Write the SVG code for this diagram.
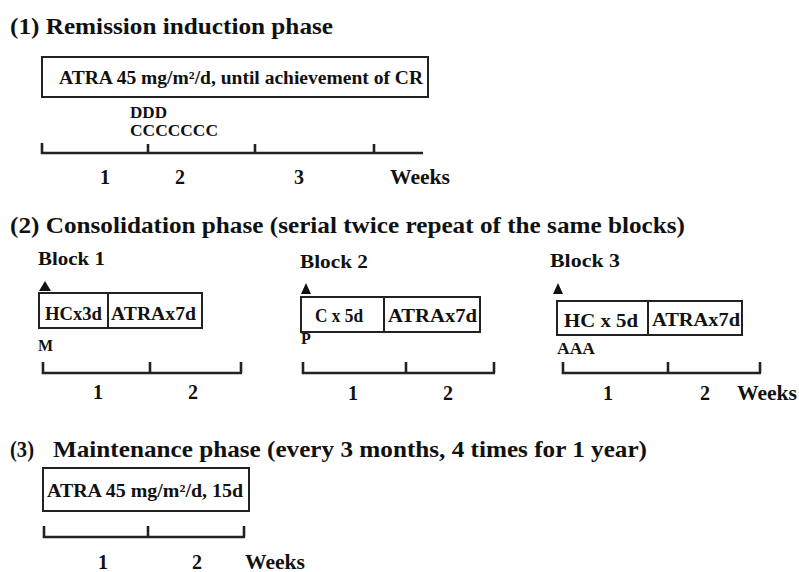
<svg xmlns="http://www.w3.org/2000/svg" width="799" height="572" viewBox="0 0 799 572">
<style>
text{font-family:'Liberation Serif','DejaVu Serif',serif;font-weight:700;fill:#111}
.h{font-size:23px}
.b{font-size:18px}
.bx{font-size:18px}
.s{font-size:16px}
.n{font-size:20px}
.box{fill:#fff;stroke:#222;stroke-width:2}
.tl{stroke:#222;stroke-width:2.6;fill:none}
.tri{fill:#111}
</style>
<rect width="799" height="572" fill="#fff"/>

<g id="phase1">
  <text class="h" x="10" y="34" textLength="323" lengthAdjust="spacingAndGlyphs">(1) Remission induction phase</text>
  <g id="box-induction">
    <rect class="box" x="42" y="57" width="386" height="40"/>
    <text class="b" x="59" y="84" textLength="364" lengthAdjust="spacingAndGlyphs">ATRA 45 mg/m²/d, until achievement of CR</text>
  </g>
  <text class="s" x="130" y="118" textLength="37" lengthAdjust="spacingAndGlyphs">DDD</text>
  <text class="s" x="130" y="136" textLength="88" lengthAdjust="spacingAndGlyphs">CCCCCCC</text>
  <text class="n" x="105" y="184" text-anchor="middle">1</text>
  <text class="n" x="180" y="184" text-anchor="middle">2</text>
  <text class="n" x="299" y="184" text-anchor="middle">3</text>
  <text class="n" x="390" y="184" textLength="60" lengthAdjust="spacingAndGlyphs">Weeks</text>
</g>

<g id="phase2">
  <text class="h" x="10" y="233" textLength="675" lengthAdjust="spacingAndGlyphs">(2) Consolidation phase (serial twice repeat of the same blocks)</text>
  <g id="block1">
    <text class="b" x="38" y="265" textLength="67" lengthAdjust="spacingAndGlyphs">Block 1</text>
    <polygon class="tri" points="39,291 45,281 51,291"/>
    <rect class="box" x="39" y="293" width="163" height="35"/>
    <line class="box" x1="108" y1="293" x2="108" y2="328"/>
    <text class="bx" x="45" y="320" textLength="57" lengthAdjust="spacingAndGlyphs">HCx3d</text>
    <text class="bx" x="111" y="320" textLength="85" lengthAdjust="spacingAndGlyphs">ATRAx7d</text>
    <text class="s" x="38" y="351">M</text>
    <text class="n" x="98" y="399" text-anchor="middle">1</text>
    <text class="n" x="193" y="399" text-anchor="middle">2</text>
  </g>
  <g id="block2">
    <text class="b" x="300" y="268" textLength="68" lengthAdjust="spacingAndGlyphs">Block 2</text>
    <polygon class="tri" points="301,294 306,283 311,294"/>
    <rect class="box" x="301" y="297" width="179" height="35"/>
    <line class="box" x1="384" y1="297" x2="384" y2="332"/>
    <text class="bx" x="315" y="322" textLength="48" lengthAdjust="spacingAndGlyphs">C x 5d</text>
    <text class="bx" x="388" y="322" textLength="89" lengthAdjust="spacingAndGlyphs">ATRAx7d</text>
    <text class="s" x="301" y="344">P</text>
    <text class="n" x="353" y="400" text-anchor="middle">1</text>
    <text class="n" x="448" y="400" text-anchor="middle">2</text>
  </g>
  <g id="block3">
    <text class="b" x="550" y="267" textLength="70" lengthAdjust="spacingAndGlyphs">Block 3</text>
    <polygon class="tri" points="553,294 558,283 563,294"/>
    <rect class="box" x="557" y="301" width="185" height="34"/>
    <line class="box" x1="648" y1="301" x2="648" y2="335"/>
    <text class="bx" x="564" y="327" textLength="74" lengthAdjust="spacingAndGlyphs">HC x 5d</text>
    <text class="bx" x="652" y="326" textLength="88" lengthAdjust="spacingAndGlyphs">ATRAx7d</text>
    <text class="s" x="557" y="354" textLength="38" lengthAdjust="spacingAndGlyphs">AAA</text>
    <text class="n" x="608" y="400" text-anchor="middle">1</text>
    <text class="n" x="705" y="400" text-anchor="middle">2</text>
    <text class="n" x="737" y="400" textLength="60" lengthAdjust="spacingAndGlyphs">Weeks</text>
  </g>
</g>

<g id="phase3">
  <text class="h" x="10" y="457" textLength="24" lengthAdjust="spacingAndGlyphs">(3)</text>
  <text class="h" x="53" y="457" textLength="594" lengthAdjust="spacingAndGlyphs">Maintenance phase (every 3 months, 4 times for 1 year)</text>
  <g id="box-maintenance">
    <rect class="box" x="43" y="468" width="206" height="43"/>
    <text class="b" x="47" y="497" textLength="196" lengthAdjust="spacingAndGlyphs">ATRA 45 mg/m²/d, 15d</text>
  </g>
  <text class="n" x="103" y="569" text-anchor="middle">1</text>
  <text class="n" x="197" y="569" text-anchor="middle">2</text>
  <text class="n" x="245" y="569" textLength="60" lengthAdjust="spacingAndGlyphs">Weeks</text>
</g>

<g id="connectors">
  <path class="tl" d="M42,143 V153 H423 M148,144 V153 M255,144 V153 M374,144 V153"/>
  <path class="tl" d="M43,362 V373 H242 M150,362 V373 M241,362 V373"/>
  <path class="tl" d="M303,362 V373 H495 M406,362 V373 M494,362 V373"/>
  <path class="tl" d="M563,362 V373 H761 M668,362 V373 M760,362 V373"/>
  <path class="tl" d="M44,526 V537 H245 M148,526 V537 M244,526 V537"/>
</g>
</svg>
